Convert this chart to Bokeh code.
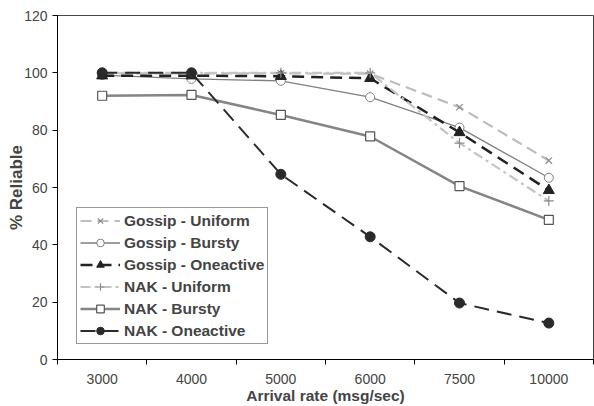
from bokeh.plotting import figure
from bokeh.models import FixedTicker, Legend, LegendItem, Range1d
from bokeh.embed import file_html
from bokeh.resources import INLINE

# Arrival rates (categorical positions on the x axis)
rates = ["3000", "4000", "5000", "6000", "7500", "10000"]

# Percentage of reliably delivered messages per protocol / traffic pattern
gossip_uniform = [99.8, 99.8, 99.8, 99.7, 88.0, 69.4]
gossip_bursty = [99.2, 97.9, 97.2, 91.5, 80.9, 63.4]
gossip_oneactive = [99.0, 99.0, 98.8, 98.1, 79.2, 59.0]
nak_uniform = [100.0, 100.0, 100.0, 100.0, 75.5, 55.3]
nak_bursty = [92.0, 92.3, 85.3, 77.8, 60.5, 48.7]
nak_oneactive = [100.0, 100.0, 64.6, 42.8, 19.7, 12.7]

y_ticks = [0, 20, 40, 60, 80, 100, 120]

xs = list(range(len(rates)))
FONT = "Liberation Sans"

p = figure(width=594, height=406, output_backend="svg", toolbar_location=None,
           x_range=Range1d(-0.5, len(rates) - 0.5), y_range=Range1d(0, 120),
           min_border_left=57, min_border_right=1, min_border_top=15,
           min_border_bottom=45)
p.grid.visible = False
p.outline_line_color = "#444444"
p.outline_line_width = 1
p.background_fill_color = "white"
p.border_fill_color = "white"

# x axis: labels at category centres, tick marks between categories
xa = p.xaxis[0]
xa.ticker = FixedTicker(ticks=xs, minor_ticks=[i + 0.5 for i in range(-1, len(rates))])
xa.major_label_overrides = {i: r for i, r in enumerate(rates)}
xa.major_tick_line_color = None
xa.minor_tick_in = 0
xa.minor_tick_out = 5
xa.minor_tick_line_color = "black"
xa.axis_line_color = "black"
xa.axis_label = "Arrival rate (msg/sec)"
xa.axis_label_text_font = FONT
xa.axis_label_text_font_style = "bold"
xa.axis_label_text_font_size = "15.5px"
xa.axis_label_standoff = 0
xa.major_label_text_font = FONT
xa.major_label_text_font_size = "14px"
xa.major_label_standoff = 8

ya = p.yaxis[0]
ya.ticker = FixedTicker(ticks=y_ticks, minor_ticks=[])
ya.major_tick_in = 0
ya.major_tick_out = 5
ya.major_tick_line_color = "black"
ya.axis_line_color = "black"
ya.axis_label = "% Reliable"
ya.axis_label_text_font = FONT
ya.axis_label_text_font_style = "bold"
ya.axis_label_text_font_size = "17px"
ya.axis_label_standoff = -5
ya.major_label_text_font = FONT
ya.major_label_text_font_size = "14px"
ya.major_label_standoff = 5

series = [
    ("Gossip - Uniform", gossip_uniform,
     dict(line_color="#bdbdbd", line_width=2.2, line_dash="11 6"),
     dict(marker="x", size=9, line_color="#8a8a8a", line_width=1.2, fill_color=None)),
    ("Gossip - Bursty", gossip_bursty,
     dict(line_color="#7f7f7f", line_width=1.3),
     dict(marker="circle", size=9, line_color="#7f7f7f", line_width=1, fill_color="white")),
    ("Gossip - Oneactive", gossip_oneactive,
     dict(line_color="#222222", line_width=2.5, line_dash="12 7"),
     dict(marker="triangle", size=11, line_color="#222222", fill_color="#222222")),
    ("NAK - Uniform", nak_uniform,
     dict(line_color="#c4c4c4", line_width=2.2, line_dash="10 4 3 4"),
     dict(marker="cross", size=10, line_color="#8a8a8a", line_width=1.2, fill_color=None)),
    ("NAK - Bursty", nak_bursty,
     dict(line_color="#858585", line_width=2.5),
     dict(marker="square", size=9, line_color="#555555", line_width=1.2, fill_color="white")),
    ("NAK - Oneactive", nak_oneactive,
     dict(line_color="#2a2a2a", line_width=2, line_dash="15 8"),
     dict(marker="circle", size=10, line_color="#2a2a2a", fill_color="#2a2a2a")),
]

items = []
for label, vals, lstyle, mstyle in series:
    ln = p.line(xs, vals, **lstyle)
    sc = p.scatter(xs, vals, **mstyle)
    items.append(LegendItem(label=label, renderers=[ln, sc]))

legend = Legend(items=items, location=(19, 15))
legend.label_text_font = FONT
legend.label_text_font_style = "bold"
legend.label_text_font_size = "15.5px"
legend.glyph_width = 40
legend.glyph_height = 19
legend.label_height = 19
legend.spacing = 3
legend.padding = 3
legend.margin = 0
legend.label_standoff = 4
legend.border_line_color = "#333333"
legend.border_line_width = 1
legend.background_fill_color = "white"
legend.background_fill_alpha = 1
p.add_layout(legend)

open("out.html", "w").write(file_html(p, INLINE))
